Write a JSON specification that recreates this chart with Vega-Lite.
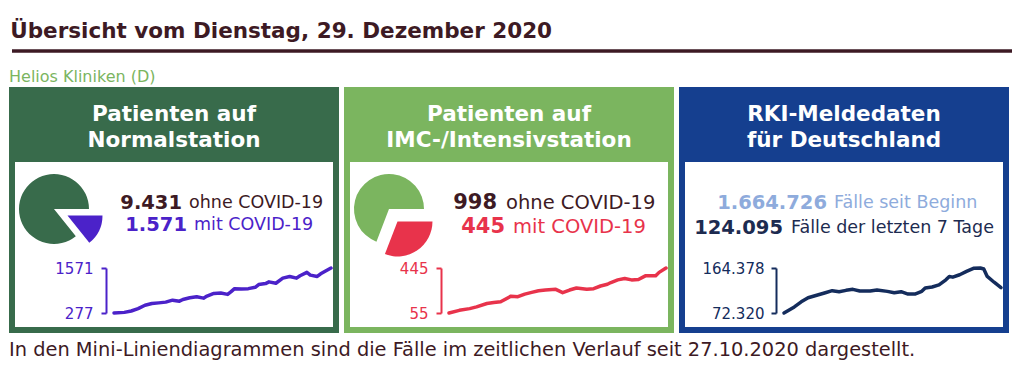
{
  "$schema": "https://vega.github.io/schema/vega-lite/v6.json",
  "padding": {"left": 9, "top": 20, "right": 5, "bottom": 5},
  "datasets": {
    "panels": [
      {"panel": "norm", "titel": "Patienten auf\nNormalstation"},
      {"panel": "imc", "titel": "Patienten auf\nIMC-/Intensivstation"},
      {"panel": "rki", "titel": "RKI-Meldedaten\nfür Deutschland"}
    ],
    "kennzahlen": [
      {"panel": "norm", "zeile": 1, "gruppe": "Normal ohne", "zahl": 9431, "bezeichnung": "ohne COVID-19"},
      {"panel": "norm", "zeile": 2, "gruppe": "Normal mit", "zahl": 1571, "bezeichnung": "mit COVID-19"},
      {"panel": "imc", "zeile": 1, "gruppe": "IMC ohne", "zahl": 998, "bezeichnung": "ohne COVID-19"},
      {"panel": "imc", "zeile": 2, "gruppe": "IMC mit", "zahl": 445, "bezeichnung": "mit COVID-19"},
      {"panel": "rki", "zeile": 1, "gruppe": "RKI gesamt", "zahl": 1664726, "bezeichnung": "Fälle seit Beginn"},
      {"panel": "rki", "zeile": 2, "gruppe": "RKI 7 Tage", "zahl": 124095, "bezeichnung": "Fälle der letzten 7 Tage"}
    ],
    "verlauf": [
      {"gruppe": "Normal mit", "tag": "2020-10-27", "wert": 277},
      {"gruppe": "Normal mit", "tag": "2020-10-30", "wert": 295},
      {"gruppe": "Normal mit", "tag": "2020-11-01", "wert": 334},
      {"gruppe": "Normal mit", "tag": "2020-11-03", "wert": 403},
      {"gruppe": "Normal mit", "tag": "2020-11-05", "wert": 500},
      {"gruppe": "Normal mit", "tag": "2020-11-07", "wert": 549},
      {"gruppe": "Normal mit", "tag": "2020-11-09", "wert": 568},
      {"gruppe": "Normal mit", "tag": "2020-11-11", "wert": 590},
      {"gruppe": "Normal mit", "tag": "2020-11-13", "wert": 646},
      {"gruppe": "Normal mit", "tag": "2020-11-15", "wert": 617},
      {"gruppe": "Normal mit", "tag": "2020-11-16", "wert": 665},
      {"gruppe": "Normal mit", "tag": "2020-11-18", "wert": 714},
      {"gruppe": "Normal mit", "tag": "2020-11-20", "wert": 743},
      {"gruppe": "Normal mit", "tag": "2020-11-22", "wert": 704},
      {"gruppe": "Normal mit", "tag": "2020-11-23", "wert": 763},
      {"gruppe": "Normal mit", "tag": "2020-11-25", "wert": 841},
      {"gruppe": "Normal mit", "tag": "2020-11-27", "wert": 850},
      {"gruppe": "Normal mit", "tag": "2020-11-29", "wert": 812},
      {"gruppe": "Normal mit", "tag": "2020-11-30", "wert": 890},
      {"gruppe": "Normal mit", "tag": "2020-12-01", "wert": 977},
      {"gruppe": "Normal mit", "tag": "2020-12-03", "wert": 967},
      {"gruppe": "Normal mit", "tag": "2020-12-05", "wert": 977},
      {"gruppe": "Normal mit", "tag": "2020-12-07", "wert": 1016},
      {"gruppe": "Normal mit", "tag": "2020-12-08", "wert": 1094},
      {"gruppe": "Normal mit", "tag": "2020-12-10", "wert": 1123},
      {"gruppe": "Normal mit", "tag": "2020-12-11", "wert": 1172},
      {"gruppe": "Normal mit", "tag": "2020-12-13", "wert": 1133},
      {"gruppe": "Normal mit", "tag": "2020-12-15", "wert": 1279},
      {"gruppe": "Normal mit", "tag": "2020-12-17", "wert": 1328},
      {"gruppe": "Normal mit", "tag": "2020-12-19", "wert": 1279},
      {"gruppe": "Normal mit", "tag": "2020-12-20", "wert": 1347},
      {"gruppe": "Normal mit", "tag": "2020-12-22", "wert": 1445},
      {"gruppe": "Normal mit", "tag": "2020-12-23", "wert": 1367},
      {"gruppe": "Normal mit", "tag": "2020-12-25", "wert": 1328},
      {"gruppe": "Normal mit", "tag": "2020-12-26", "wert": 1405},
      {"gruppe": "Normal mit", "tag": "2020-12-29", "wert": 1571},
      {"gruppe": "IMC mit", "tag": "2020-10-27", "wert": 55},
      {"gruppe": "IMC mit", "tag": "2020-10-30", "wert": 78},
      {"gruppe": "IMC mit", "tag": "2020-11-02", "wert": 93},
      {"gruppe": "IMC mit", "tag": "2020-11-04", "wert": 108},
      {"gruppe": "IMC mit", "tag": "2020-11-07", "wert": 137},
      {"gruppe": "IMC mit", "tag": "2020-11-09", "wert": 146},
      {"gruppe": "IMC mit", "tag": "2020-11-11", "wert": 152},
      {"gruppe": "IMC mit", "tag": "2020-11-14", "wert": 201},
      {"gruppe": "IMC mit", "tag": "2020-11-16", "wert": 196},
      {"gruppe": "IMC mit", "tag": "2020-11-18", "wert": 219},
      {"gruppe": "IMC mit", "tag": "2020-11-20", "wert": 234},
      {"gruppe": "IMC mit", "tag": "2020-11-22", "wert": 248},
      {"gruppe": "IMC mit", "tag": "2020-11-24", "wert": 254},
      {"gruppe": "IMC mit", "tag": "2020-11-27", "wert": 260},
      {"gruppe": "IMC mit", "tag": "2020-11-29", "wert": 231},
      {"gruppe": "IMC mit", "tag": "2020-12-01", "wert": 254},
      {"gruppe": "IMC mit", "tag": "2020-12-03", "wert": 272},
      {"gruppe": "IMC mit", "tag": "2020-12-06", "wert": 260},
      {"gruppe": "IMC mit", "tag": "2020-12-08", "wert": 266},
      {"gruppe": "IMC mit", "tag": "2020-12-10", "wert": 289},
      {"gruppe": "IMC mit", "tag": "2020-12-12", "wert": 304},
      {"gruppe": "IMC mit", "tag": "2020-12-13", "wert": 319},
      {"gruppe": "IMC mit", "tag": "2020-12-15", "wert": 342},
      {"gruppe": "IMC mit", "tag": "2020-12-17", "wert": 354},
      {"gruppe": "IMC mit", "tag": "2020-12-19", "wert": 342},
      {"gruppe": "IMC mit", "tag": "2020-12-21", "wert": 345},
      {"gruppe": "IMC mit", "tag": "2020-12-23", "wert": 377},
      {"gruppe": "IMC mit", "tag": "2020-12-26", "wert": 377},
      {"gruppe": "IMC mit", "tag": "2020-12-27", "wert": 407},
      {"gruppe": "IMC mit", "tag": "2020-12-29", "wert": 445},
      {"gruppe": "RKI 7 Tage", "tag": "2020-10-27", "wert": 72320},
      {"gruppe": "RKI 7 Tage", "tag": "2020-10-30", "wert": 84726},
      {"gruppe": "RKI 7 Tage", "tag": "2020-11-01", "wert": 95116},
      {"gruppe": "RKI 7 Tage", "tag": "2020-11-03", "wert": 103428},
      {"gruppe": "RKI 7 Tage", "tag": "2020-11-05", "wert": 107584},
      {"gruppe": "RKI 7 Tage", "tag": "2020-11-08", "wert": 113818},
      {"gruppe": "RKI 7 Tage", "tag": "2020-11-10", "wert": 117974},
      {"gruppe": "RKI 7 Tage", "tag": "2020-11-12", "wert": 115896},
      {"gruppe": "RKI 7 Tage", "tag": "2020-11-14", "wert": 118660},
      {"gruppe": "RKI 7 Tage", "tag": "2020-11-16", "wert": 120738},
      {"gruppe": "RKI 7 Tage", "tag": "2020-11-18", "wert": 117267},
      {"gruppe": "RKI 7 Tage", "tag": "2020-11-21", "wert": 117267},
      {"gruppe": "RKI 7 Tage", "tag": "2020-11-23", "wert": 119345},
      {"gruppe": "RKI 7 Tage", "tag": "2020-11-26", "wert": 116581},
      {"gruppe": "RKI 7 Tage", "tag": "2020-11-28", "wert": 113818},
      {"gruppe": "RKI 7 Tage", "tag": "2020-11-30", "wert": 115896},
      {"gruppe": "RKI 7 Tage", "tag": "2020-12-02", "wert": 111033},
      {"gruppe": "RKI 7 Tage", "tag": "2020-12-04", "wert": 111033},
      {"gruppe": "RKI 7 Tage", "tag": "2020-12-06", "wert": 116581},
      {"gruppe": "RKI 7 Tage", "tag": "2020-12-07", "wert": 123501},
      {"gruppe": "RKI 7 Tage", "tag": "2020-12-09", "wert": 125579},
      {"gruppe": "RKI 7 Tage", "tag": "2020-12-11", "wert": 129734},
      {"gruppe": "RKI 7 Tage", "tag": "2020-12-13", "wert": 140125},
      {"gruppe": "RKI 7 Tage", "tag": "2020-12-14", "wert": 147066},
      {"gruppe": "RKI 7 Tage", "tag": "2020-12-15", "wert": 145673},
      {"gruppe": "RKI 7 Tage", "tag": "2020-12-17", "wert": 150517},
      {"gruppe": "RKI 7 Tage", "tag": "2020-12-19", "wert": 157456},
      {"gruppe": "RKI 7 Tage", "tag": "2020-12-21", "wert": 163690},
      {"gruppe": "RKI 7 Tage", "tag": "2020-12-23", "wert": 164378},
      {"gruppe": "RKI 7 Tage", "tag": "2020-12-24", "wert": 162296},
      {"gruppe": "RKI 7 Tage", "tag": "2020-12-25", "wert": 147066},
      {"gruppe": "RKI 7 Tage", "tag": "2020-12-27", "wert": 135283},
      {"gruppe": "RKI 7 Tage", "tag": "2020-12-28", "wert": 129734},
      {"gruppe": "RKI 7 Tage", "tag": "2020-12-29", "wert": 124095}
    ]
  },
  "title": {
    "text": "In den Mini-Liniendiagrammen sind die Fälle im zeitlichen Verlauf seit 27.10.2020 dargestellt.",
    "orient": "bottom", "anchor": "start", "fontSize": 19.4, "fontWeight": "normal",
    "color": "#3d1a24", "font": "DejaVu Sans", "offset": 8
  },
  "spacing": 14,
  "vconcat": [
    {
      "title": {"text": "Übersicht vom Dienstag, 29. Dezember 2020", "anchor": "start", "fontSize": 21.5, "fontWeight": "bold", "color": "#3d1a24", "font": "DejaVu Sans", "offset": 7},
      "width": 1000, "height": 4,
      "data": {"values": [{}]},
      "mark": {"type": "rule", "color": "#3d1a24", "strokeWidth": 3.5},
      "encoding": {"y": {"datum": 0, "type": "quantitative", "axis": null}}
    },
    {
      "title": {"text": "Helios Kliniken (D)", "anchor": "start", "fontSize": 16, "fontWeight": "normal", "color": "#7bb55f", "font": "DejaVu Sans", "offset": 2},
      "hconcat": [
        {
          "vconcat": [
            {
              "width": 324, "height": 69,
              "view": {"fill": "#386b4b", "stroke": "#386b4b", "strokeWidth": 6},
              "data": {"name": "panels"},
              "transform": [{"filter": "datum.panel == 'norm'"}],
              "mark": {"type": "text", "color": "white", "font": "DejaVu Sans", "fontSize": 21.5, "fontWeight": "bold", "lineBreak": "\n", "lineHeight": 26, "align": "center", "baseline": "middle", "dy": -10},
              "encoding": {"text": {"field": "titel", "type": "nominal"}}
            },
            {
              "width": 324, "height": 171,
              "view": {"fill": "white", "stroke": "#386b4b", "strokeWidth": 6},
              "layer": [
                {
                  "data": {"name": "kennzahlen"},
                  "transform": [{"filter": "datum.panel == 'norm'"}],
                  "mark": {"type": "arc", "radius": 35},
                  "encoding": {
                    "theta": {"field": "zahl", "type": "quantitative", "stack": true, "scale": {"range": [1.5708, 7.854]}},
                    "order": {"field": "zeile", "sort": "descending"},
                    "color": {"field": "gruppe", "type": "nominal", "legend": null, "scale": {"domain": ["Normal ohne", "Normal mit", "IMC ohne", "IMC mit", "RKI gesamt", "RKI 7 Tage"], "range": ["#386b4b", "#4b22c9", "#7bb55f", "#e8334b", "#8eabdc", "#142c5c"]}},
                    "opacity": {"condition": {"test": "datum.zeile == 2", "value": 0}, "value": 1},
                    "x": {"datum": 0.1296, "type": "quantitative", "scale": {"domain": [0, 1]}, "axis": null},
                    "y": {"datum": 0.2924, "type": "quantitative", "scale": {"domain": [0, 1], "reverse": true}, "axis": null}
                  }
                },
                {
                  "data": {"name": "kennzahlen"},
                  "transform": [{"filter": "datum.panel == 'norm'"}],
                  "mark": {"type": "arc", "radius": 35, "xOffset": 13.5, "yOffset": 6.5},
                  "encoding": {
                    "theta": {"field": "zahl", "type": "quantitative", "stack": true, "scale": {"range": [1.5708, 7.854]}},
                    "order": {"field": "zeile", "sort": "descending"},
                    "color": {"field": "gruppe", "type": "nominal", "legend": null, "scale": {"domain": ["Normal ohne", "Normal mit", "IMC ohne", "IMC mit", "RKI gesamt", "RKI 7 Tage"], "range": ["#386b4b", "#4b22c9", "#7bb55f", "#e8334b", "#8eabdc", "#142c5c"]}},
                    "opacity": {"condition": {"test": "datum.zeile == 2", "value": 1}, "value": 0},
                    "x": {"datum": 0.1296, "type": "quantitative", "scale": {"domain": [0, 1]}, "axis": null},
                    "y": {"datum": 0.2924, "type": "quantitative", "scale": {"domain": [0, 1], "reverse": true}, "axis": null}
                  }
                },
                {
                  "data": {"name": "kennzahlen"},
                  "transform": [{"filter": "datum.panel == 'norm' && datum.zeile == 1"}],
                  "mark": {"type": "text", "align": "right", "baseline": "middle", "font": "DejaVu Sans", "fontSize": 19.5, "fontWeight": "bold"},
                  "encoding": {
                    "text": {"field": "zahl", "type": "quantitative", "format": ",d"},
                    "fill": {"field": "gruppe", "type": "nominal", "legend": null, "scale": {"domain": ["Normal ohne", "Normal mit", "IMC ohne", "IMC mit", "RKI gesamt", "RKI 7 Tage"], "range": ["#3d1a24", "#4b22c9", "#3d1a24", "#e8334b", "#8eabdc", "#1d2b50"]}},
                    "x": {"datum": 0.5247, "type": "quantitative", "scale": {"domain": [0, 1]}, "axis": null},
                    "y": {"datum": 0.2573, "type": "quantitative", "scale": {"domain": [0, 1], "reverse": true}, "axis": null}
                  }
                },
                {
                  "data": {"name": "kennzahlen"},
                  "transform": [{"filter": "datum.panel == 'norm' && datum.zeile == 1"}],
                  "mark": {"type": "text", "align": "left", "baseline": "middle", "dx": 7, "font": "DejaVu Sans", "fontSize": 17.5},
                  "encoding": {
                    "text": {"field": "bezeichnung", "type": "nominal"},
                    "fill": {"field": "gruppe", "type": "nominal", "legend": null, "scale": {"domain": ["Normal ohne", "Normal mit", "IMC ohne", "IMC mit", "RKI gesamt", "RKI 7 Tage"], "range": ["#3d1a24", "#4b22c9", "#3d1a24", "#e8334b", "#8eabdc", "#1d2b50"]}},
                    "x": {"datum": 0.5247, "type": "quantitative", "scale": {"domain": [0, 1]}, "axis": null},
                    "y": {"datum": 0.2573, "type": "quantitative", "scale": {"domain": [0, 1], "reverse": true}, "axis": null}
                  }
                },
                {
                  "data": {"name": "kennzahlen"},
                  "transform": [{"filter": "datum.panel == 'norm' && datum.zeile == 2"}],
                  "mark": {"type": "text", "align": "right", "baseline": "middle", "font": "DejaVu Sans", "fontSize": 19.5, "fontWeight": "bold"},
                  "encoding": {
                    "text": {"field": "zahl", "type": "quantitative", "format": ",d"},
                    "fill": {"field": "gruppe", "type": "nominal", "legend": null, "scale": {"domain": ["Normal ohne", "Normal mit", "IMC ohne", "IMC mit", "RKI gesamt", "RKI 7 Tage"], "range": ["#3d1a24", "#4b22c9", "#3d1a24", "#e8334b", "#8eabdc", "#1d2b50"]}},
                    "x": {"datum": 0.5401, "type": "quantitative", "scale": {"domain": [0, 1]}, "axis": null},
                    "y": {"datum": 0.386, "type": "quantitative", "scale": {"domain": [0, 1], "reverse": true}, "axis": null}
                  }
                },
                {
                  "data": {"name": "kennzahlen"},
                  "transform": [{"filter": "datum.panel == 'norm' && datum.zeile == 2"}],
                  "mark": {"type": "text", "align": "left", "baseline": "middle", "dx": 7, "font": "DejaVu Sans", "fontSize": 17.5},
                  "encoding": {
                    "text": {"field": "bezeichnung", "type": "nominal"},
                    "fill": {"field": "gruppe", "type": "nominal", "legend": null, "scale": {"domain": ["Normal ohne", "Normal mit", "IMC ohne", "IMC mit", "RKI gesamt", "RKI 7 Tage"], "range": ["#3d1a24", "#4b22c9", "#3d1a24", "#e8334b", "#8eabdc", "#1d2b50"]}},
                    "x": {"datum": 0.5401, "type": "quantitative", "scale": {"domain": [0, 1]}, "axis": null},
                    "y": {"datum": 0.386, "type": "quantitative", "scale": {"domain": [0, 1], "reverse": true}, "axis": null}
                  }
                },
                {
                  "data": {"name": "verlauf"},
                  "transform": [{"filter": "datum.gruppe == 'Normal mit'"}],
                  "mark": {"type": "line", "strokeWidth": 3.5, "strokeCap": "round", "strokeJoin": "round"},
                  "encoding": {
                    "x": {"field": "tag", "type": "temporal", "scale": {"range": [102, 319]}, "axis": null},
                    "y": {"field": "wert", "type": "quantitative", "scale": {"domain": [277, 1571], "range": [154, 109], "zero": false, "nice": false},
                      "axis": {"values": [277, 1571], "format": "d", "offset": -94, "domain": true, "domainColor": "#4b22c9", "domainWidth": 2, "ticks": true, "tickColor": "#4b22c9", "tickWidth": 2, "tickSize": 5, "labelColor": "#4b22c9", "labelFont": "DejaVu Sans", "labelFontSize": 15, "labelPadding": 8, "labelFlush": false, "labelOverlap": false, "grid": false, "title": null}},
                    "color": {"field": "gruppe", "type": "nominal", "legend": null, "scale": {"domain": ["Normal ohne", "Normal mit", "IMC ohne", "IMC mit", "RKI gesamt", "RKI 7 Tage"], "range": ["#386b4b", "#4b22c9", "#7bb55f", "#e8334b", "#8eabdc", "#142c5c"]}}
                  }
                }
              ],
              "resolve": {"scale": {"x": "independent", "y": "independent"}, "axis": {"x": "independent", "y": "independent"}}
            }
          ],
          "spacing": 0,
          "bounds": "flush"
        },
        {
          "vconcat": [
            {
              "width": 324, "height": 69,
              "view": {"fill": "#7bb55f", "stroke": "#7bb55f", "strokeWidth": 6},
              "data": {"name": "panels"},
              "transform": [{"filter": "datum.panel == 'imc'"}],
              "mark": {"type": "text", "color": "white", "font": "DejaVu Sans", "fontSize": 21.5, "fontWeight": "bold", "lineBreak": "\n", "lineHeight": 26, "align": "center", "baseline": "middle", "dy": -10},
              "encoding": {"text": {"field": "titel", "type": "nominal"}}
            },
            {
              "width": 324, "height": 171,
              "view": {"fill": "white", "stroke": "#7bb55f", "strokeWidth": 6},
              "layer": [
                {
                  "data": {"name": "kennzahlen"},
                  "transform": [{"filter": "datum.panel == 'imc'"}],
                  "mark": {"type": "arc", "radius": 35},
                  "encoding": {
                    "theta": {"field": "zahl", "type": "quantitative", "stack": true, "scale": {"range": [1.5708, 7.854]}},
                    "order": {"field": "zeile", "sort": "descending"},
                    "color": {"field": "gruppe", "type": "nominal", "legend": null, "scale": {"domain": ["Normal ohne", "Normal mit", "IMC ohne", "IMC mit", "RKI gesamt", "RKI 7 Tage"], "range": ["#386b4b", "#4b22c9", "#7bb55f", "#e8334b", "#8eabdc", "#142c5c"]}},
                    "opacity": {"condition": {"test": "datum.zeile == 2", "value": 0}, "value": 1},
                    "x": {"datum": 0.1296, "type": "quantitative", "scale": {"domain": [0, 1]}, "axis": null},
                    "y": {"datum": 0.2924, "type": "quantitative", "scale": {"domain": [0, 1], "reverse": true}, "axis": null}
                  }
                },
                {
                  "data": {"name": "kennzahlen"},
                  "transform": [{"filter": "datum.panel == 'imc'"}],
                  "mark": {"type": "arc", "radius": 35, "xOffset": 8.5, "yOffset": 12.4},
                  "encoding": {
                    "theta": {"field": "zahl", "type": "quantitative", "stack": true, "scale": {"range": [1.5708, 7.854]}},
                    "order": {"field": "zeile", "sort": "descending"},
                    "color": {"field": "gruppe", "type": "nominal", "legend": null, "scale": {"domain": ["Normal ohne", "Normal mit", "IMC ohne", "IMC mit", "RKI gesamt", "RKI 7 Tage"], "range": ["#386b4b", "#4b22c9", "#7bb55f", "#e8334b", "#8eabdc", "#142c5c"]}},
                    "opacity": {"condition": {"test": "datum.zeile == 2", "value": 1}, "value": 0},
                    "x": {"datum": 0.1296, "type": "quantitative", "scale": {"domain": [0, 1]}, "axis": null},
                    "y": {"datum": 0.2924, "type": "quantitative", "scale": {"domain": [0, 1], "reverse": true}, "axis": null}
                  }
                },
                {
                  "data": {"name": "kennzahlen"},
                  "transform": [{"filter": "datum.panel == 'imc' && datum.zeile == 1"}],
                  "mark": {"type": "text", "align": "right", "baseline": "middle", "font": "DejaVu Sans", "fontSize": 21, "fontWeight": "bold"},
                  "encoding": {
                    "text": {"field": "zahl", "type": "quantitative", "format": ",d"},
                    "fill": {"field": "gruppe", "type": "nominal", "legend": null, "scale": {"domain": ["Normal ohne", "Normal mit", "IMC ohne", "IMC mit", "RKI gesamt", "RKI 7 Tage"], "range": ["#3d1a24", "#4b22c9", "#3d1a24", "#e8334b", "#8eabdc", "#1d2b50"]}},
                    "x": {"datum": 0.463, "type": "quantitative", "scale": {"domain": [0, 1]}, "axis": null},
                    "y": {"datum": 0.2573, "type": "quantitative", "scale": {"domain": [0, 1], "reverse": true}, "axis": null}
                  }
                },
                {
                  "data": {"name": "kennzahlen"},
                  "transform": [{"filter": "datum.panel == 'imc' && datum.zeile == 1"}],
                  "mark": {"type": "text", "align": "left", "baseline": "middle", "dx": 9, "font": "DejaVu Sans", "fontSize": 19.5},
                  "encoding": {
                    "text": {"field": "bezeichnung", "type": "nominal"},
                    "fill": {"field": "gruppe", "type": "nominal", "legend": null, "scale": {"domain": ["Normal ohne", "Normal mit", "IMC ohne", "IMC mit", "RKI gesamt", "RKI 7 Tage"], "range": ["#3d1a24", "#4b22c9", "#3d1a24", "#e8334b", "#8eabdc", "#1d2b50"]}},
                    "x": {"datum": 0.463, "type": "quantitative", "scale": {"domain": [0, 1]}, "axis": null},
                    "y": {"datum": 0.2573, "type": "quantitative", "scale": {"domain": [0, 1], "reverse": true}, "axis": null}
                  }
                },
                {
                  "data": {"name": "kennzahlen"},
                  "transform": [{"filter": "datum.panel == 'imc' && datum.zeile == 2"}],
                  "mark": {"type": "text", "align": "right", "baseline": "middle", "font": "DejaVu Sans", "fontSize": 21, "fontWeight": "bold"},
                  "encoding": {
                    "text": {"field": "zahl", "type": "quantitative", "format": ",d"},
                    "fill": {"field": "gruppe", "type": "nominal", "legend": null, "scale": {"domain": ["Normal ohne", "Normal mit", "IMC ohne", "IMC mit", "RKI gesamt", "RKI 7 Tage"], "range": ["#3d1a24", "#4b22c9", "#3d1a24", "#e8334b", "#8eabdc", "#1d2b50"]}},
                    "x": {"datum": 0.4877, "type": "quantitative", "scale": {"domain": [0, 1]}, "axis": null},
                    "y": {"datum": 0.3977, "type": "quantitative", "scale": {"domain": [0, 1], "reverse": true}, "axis": null}
                  }
                },
                {
                  "data": {"name": "kennzahlen"},
                  "transform": [{"filter": "datum.panel == 'imc' && datum.zeile == 2"}],
                  "mark": {"type": "text", "align": "left", "baseline": "middle", "dx": 8, "font": "DejaVu Sans", "fontSize": 19.5},
                  "encoding": {
                    "text": {"field": "bezeichnung", "type": "nominal"},
                    "fill": {"field": "gruppe", "type": "nominal", "legend": null, "scale": {"domain": ["Normal ohne", "Normal mit", "IMC ohne", "IMC mit", "RKI gesamt", "RKI 7 Tage"], "range": ["#3d1a24", "#4b22c9", "#3d1a24", "#e8334b", "#8eabdc", "#1d2b50"]}},
                    "x": {"datum": 0.4877, "type": "quantitative", "scale": {"domain": [0, 1]}, "axis": null},
                    "y": {"datum": 0.3977, "type": "quantitative", "scale": {"domain": [0, 1], "reverse": true}, "axis": null}
                  }
                },
                {
                  "data": {"name": "verlauf"},
                  "transform": [{"filter": "datum.gruppe == 'IMC mit'"}],
                  "mark": {"type": "line", "strokeWidth": 3.5, "strokeCap": "round", "strokeJoin": "round"},
                  "encoding": {
                    "x": {"field": "tag", "type": "temporal", "scale": {"range": [102, 319]}, "axis": null},
                    "y": {"field": "wert", "type": "quantitative", "scale": {"domain": [55, 445], "range": [154, 109], "zero": false, "nice": false},
                      "axis": {"values": [55, 445], "format": "d", "offset": -94, "domain": true, "domainColor": "#e8334b", "domainWidth": 2, "ticks": true, "tickColor": "#e8334b", "tickWidth": 2, "tickSize": 5, "labelColor": "#e8334b", "labelFont": "DejaVu Sans", "labelFontSize": 15, "labelPadding": 8, "labelFlush": false, "labelOverlap": false, "grid": false, "title": null}},
                    "color": {"field": "gruppe", "type": "nominal", "legend": null, "scale": {"domain": ["Normal ohne", "Normal mit", "IMC ohne", "IMC mit", "RKI gesamt", "RKI 7 Tage"], "range": ["#386b4b", "#4b22c9", "#7bb55f", "#e8334b", "#8eabdc", "#142c5c"]}}
                  }
                }
              ],
              "resolve": {"scale": {"x": "independent", "y": "independent"}, "axis": {"x": "independent", "y": "independent"}}
            }
          ],
          "spacing": 0,
          "bounds": "flush"
        },
        {
          "vconcat": [
            {
              "width": 324, "height": 69,
              "view": {"fill": "#153f8f", "stroke": "#153f8f", "strokeWidth": 6},
              "data": {"name": "panels"},
              "transform": [{"filter": "datum.panel == 'rki'"}],
              "mark": {"type": "text", "color": "white", "font": "DejaVu Sans", "fontSize": 21.5, "fontWeight": "bold", "lineBreak": "\n", "lineHeight": 26, "align": "center", "baseline": "middle", "dy": -10},
              "encoding": {"text": {"field": "titel", "type": "nominal"}}
            },
            {
              "width": 324, "height": 171,
              "view": {"fill": "white", "stroke": "#153f8f", "strokeWidth": 6},
              "layer": [
                {
                  "data": {"name": "kennzahlen"},
                  "transform": [{"filter": "datum.panel == 'rki' && datum.zeile == 1"}],
                  "mark": {"type": "text", "align": "right", "baseline": "middle", "font": "DejaVu Sans", "fontSize": 19.5, "fontWeight": "bold"},
                  "encoding": {
                    "text": {"field": "zahl", "type": "quantitative", "format": ",d"},
                    "fill": {"field": "gruppe", "type": "nominal", "legend": null, "scale": {"domain": ["Normal ohne", "Normal mit", "IMC ohne", "IMC mit", "RKI gesamt", "RKI 7 Tage"], "range": ["#3d1a24", "#4b22c9", "#3d1a24", "#e8334b", "#8eabdc", "#1d2b50"]}},
                    "x": {"datum": 0.4475, "type": "quantitative", "scale": {"domain": [0, 1]}, "axis": null},
                    "y": {"datum": 0.2573, "type": "quantitative", "scale": {"domain": [0, 1], "reverse": true}, "axis": null}
                  }
                },
                {
                  "data": {"name": "kennzahlen"},
                  "transform": [{"filter": "datum.panel == 'rki' && datum.zeile == 1"}],
                  "mark": {"type": "text", "align": "left", "baseline": "middle", "dx": 7, "font": "DejaVu Sans", "fontSize": 17.5},
                  "encoding": {
                    "text": {"field": "bezeichnung", "type": "nominal"},
                    "fill": {"field": "gruppe", "type": "nominal", "legend": null, "scale": {"domain": ["Normal ohne", "Normal mit", "IMC ohne", "IMC mit", "RKI gesamt", "RKI 7 Tage"], "range": ["#3d1a24", "#4b22c9", "#3d1a24", "#e8334b", "#8eabdc", "#1d2b50"]}},
                    "x": {"datum": 0.4475, "type": "quantitative", "scale": {"domain": [0, 1]}, "axis": null},
                    "y": {"datum": 0.2573, "type": "quantitative", "scale": {"domain": [0, 1], "reverse": true}, "axis": null}
                  }
                },
                {
                  "data": {"name": "kennzahlen"},
                  "transform": [{"filter": "datum.panel == 'rki' && datum.zeile == 2"}],
                  "mark": {"type": "text", "align": "right", "baseline": "middle", "font": "DejaVu Sans", "fontSize": 19.5, "fontWeight": "bold"},
                  "encoding": {
                    "text": {"field": "zahl", "type": "quantitative", "format": ",d"},
                    "fill": {"field": "gruppe", "type": "nominal", "legend": null, "scale": {"domain": ["Normal ohne", "Normal mit", "IMC ohne", "IMC mit", "RKI gesamt", "RKI 7 Tage"], "range": ["#3d1a24", "#4b22c9", "#3d1a24", "#e8334b", "#8eabdc", "#1d2b50"]}},
                    "x": {"datum": 0.3117, "type": "quantitative", "scale": {"domain": [0, 1]}, "axis": null},
                    "y": {"datum": 0.4035, "type": "quantitative", "scale": {"domain": [0, 1], "reverse": true}, "axis": null}
                  }
                },
                {
                  "data": {"name": "kennzahlen"},
                  "transform": [{"filter": "datum.panel == 'rki' && datum.zeile == 2"}],
                  "mark": {"type": "text", "align": "left", "baseline": "middle", "dx": 8, "font": "DejaVu Sans", "fontSize": 17.5},
                  "encoding": {
                    "text": {"field": "bezeichnung", "type": "nominal"},
                    "fill": {"field": "gruppe", "type": "nominal", "legend": null, "scale": {"domain": ["Normal ohne", "Normal mit", "IMC ohne", "IMC mit", "RKI gesamt", "RKI 7 Tage"], "range": ["#3d1a24", "#4b22c9", "#3d1a24", "#e8334b", "#8eabdc", "#1d2b50"]}},
                    "x": {"datum": 0.3117, "type": "quantitative", "scale": {"domain": [0, 1]}, "axis": null},
                    "y": {"datum": 0.4035, "type": "quantitative", "scale": {"domain": [0, 1], "reverse": true}, "axis": null}
                  }
                },
                {
                  "data": {"name": "verlauf"},
                  "transform": [{"filter": "datum.gruppe == 'RKI 7 Tage'"}],
                  "mark": {"type": "line", "strokeWidth": 3.5, "strokeCap": "round", "strokeJoin": "round"},
                  "encoding": {
                    "x": {"field": "tag", "type": "temporal", "scale": {"range": [102, 319]}, "axis": null},
                    "y": {"field": "wert", "type": "quantitative", "scale": {"domain": [72320, 164378], "range": [154, 109], "zero": false, "nice": false},
                      "axis": {"values": [72320, 164378], "format": ",d", "offset": -94, "domain": true, "domainColor": "#142c5c", "domainWidth": 2, "ticks": true, "tickColor": "#142c5c", "tickWidth": 2, "tickSize": 5, "labelColor": "#142c5c", "labelFont": "DejaVu Sans", "labelFontSize": 15, "labelPadding": 7, "labelFlush": false, "labelOverlap": false, "grid": false, "title": null}},
                    "color": {"field": "gruppe", "type": "nominal", "legend": null, "scale": {"domain": ["Normal ohne", "Normal mit", "IMC ohne", "IMC mit", "RKI gesamt", "RKI 7 Tage"], "range": ["#386b4b", "#4b22c9", "#7bb55f", "#e8334b", "#8eabdc", "#142c5c"]}}
                  }
                }
              ],
              "resolve": {"scale": {"x": "independent", "y": "independent"}, "axis": {"x": "independent", "y": "independent"}}
            }
          ],
          "spacing": 0,
          "bounds": "flush"
        }
      ],
      "spacing": 5,
      "resolve": {"scale": {"theta": "independent"}}
    }
  ],
  "config": {
    "view": {"stroke": null},
    "font": "DejaVu Sans",
    "locale": {"number": {"decimal": ",", "thousands": ".", "grouping": [3], "currency": ["", " €"]}}
  }
}
